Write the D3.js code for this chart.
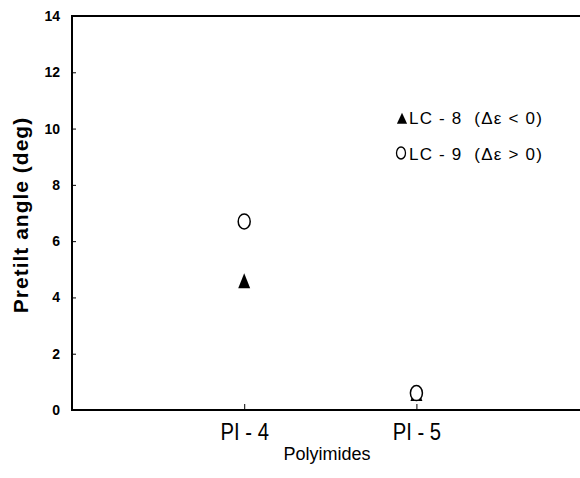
<!DOCTYPE html>
<html>
<head>
<meta charset="utf-8">
<script src="https://cdn.jsdelivr.net/npm/d3@7"></script>
<style>
  body { margin: 0; background: #fff; }
  svg text { fill: #000; font-family: "Liberation Sans", Arial, sans-serif; }
</style>
</head>
<body>
<div id="graph"></div>
<script>
// Pretilt angle for each polyimide
const categories = ['PI - 4', 'PI - 5'];
const lc8 = [4.5, 0.5];   // triangles, negative dielectric anisotropy
const lc9 = [6.7, 0.6];   // circles, positive dielectric anisotropy
const yTicks = [0, 2, 4, 6, 8, 10, 12, 14];
const legendLabels = ['LC - 8  (\u0394\u03b5 < 0)', 'LC - 9  (\u0394\u03b5 > 0)'];

drawChart();

function drawChart() {
  const width = 580;
  const height = 478;
  const left = 72, top = 16, bottom = 410, right = 580;

  const svg = d3.select('#graph')
      .append('svg')
      .attr('width', width)
      .attr('height', height);

  // category index 1 and 2 sit at the two ticks
  const x = d3.scaleLinear().domain([0, 2.95]).range([left, right]);
  const y = d3.scaleLinear().domain([0, 14]).range([bottom, top]);

  // frame: top, left, bottom
  svg.append('path')
      .attr('d', `M${right},${y(14)}H${left}V${y(0)}H${right}`)
      .attr('fill', 'none')
      .attr('stroke', '#000')
      .attr('stroke-width', 2);

  // y axis
  const yAxis = svg.append('g')
      .attr('transform', `translate(${left},0)`)
      .call(d3.axisLeft(y).tickValues(yTicks).tickSize(-4).tickPadding(12));
  yAxis.select('.domain').remove();
  yAxis.selectAll('text')
      .style('font-size', '14px')
      .style('font-weight', 'bold');

  // x axis
  const xAxis = svg.append('g')
      .attr('transform', `translate(0,${bottom})`)
      .call(d3.axisBottom(x).tickValues([1, 2])
          .tickFormat(d => categories[d - 1])
          .tickSize(-6).tickPadding(14));
  xAxis.select('.domain').remove();
  xAxis.selectAll('text')
      .attr('transform', 'scale(0.88,1)')
      .style('font-size', '23px');

  svg.append('text')
      .attr('x', 327)
      .attr('y', 460)
      .attr('text-anchor', 'middle')
      .style('font-size', '18px')
      .text('Polyimides');

  svg.append('text')
      .attr('transform', 'translate(28,215) rotate(-90)')
      .attr('text-anchor', 'middle')
      .style('font-size', '21px')
      .style('font-weight', 'bold')
      .style('letter-spacing', '1px')
      .text('Pretilt angle (deg)');

  const tri = d3.symbol().type(d3.symbolTriangle).size(90);

  // LC-8 triangles
  svg.selectAll('.lc8')
      .data(lc8)
      .enter()
      .append('path')
      .attr('d', tri)
      .attr('transform', (d, i) => `translate(${x(i + 1)},${y(d)}) scale(0.83,1.2)`)
      .attr('fill', '#000');

  // LC-9 circles, drawn on top
  svg.selectAll('.lc9')
      .data(lc9)
      .enter()
      .append('ellipse')
      .attr('cx', (d, i) => x(i + 1))
      .attr('cy', d => y(d))
      .attr('rx', 6)
      .attr('ry', 7.5)
      .attr('fill', '#fff')
      .attr('stroke', '#000')
      .attr('stroke-width', 1.5);

  // legend
  const legend = svg.append('g');
  legend.append('path')
      .attr('d', d3.symbol().type(d3.symbolTriangle).size(70))
      .attr('transform', 'translate(402,120) scale(0.8,1)')
      .attr('fill', '#000');
  legend.append('ellipse')
      .attr('cx', 401).attr('cy', 153)
      .attr('rx', 4.5).attr('ry', 6)
      .attr('fill', 'none').attr('stroke', '#000').attr('stroke-width', 1.3);
  legend.selectAll('.lab')
      .data(legendLabels)
      .enter()
      .append('text')
      .attr('x', 409)
      .attr('y', (d, i) => 124 + i * 36)
      .style('font-size', '17px')
      .style('letter-spacing', '1.2px')
      .attr('xml:space', 'preserve')
      .text(d => d);
}
</script>
</body>
</html>
